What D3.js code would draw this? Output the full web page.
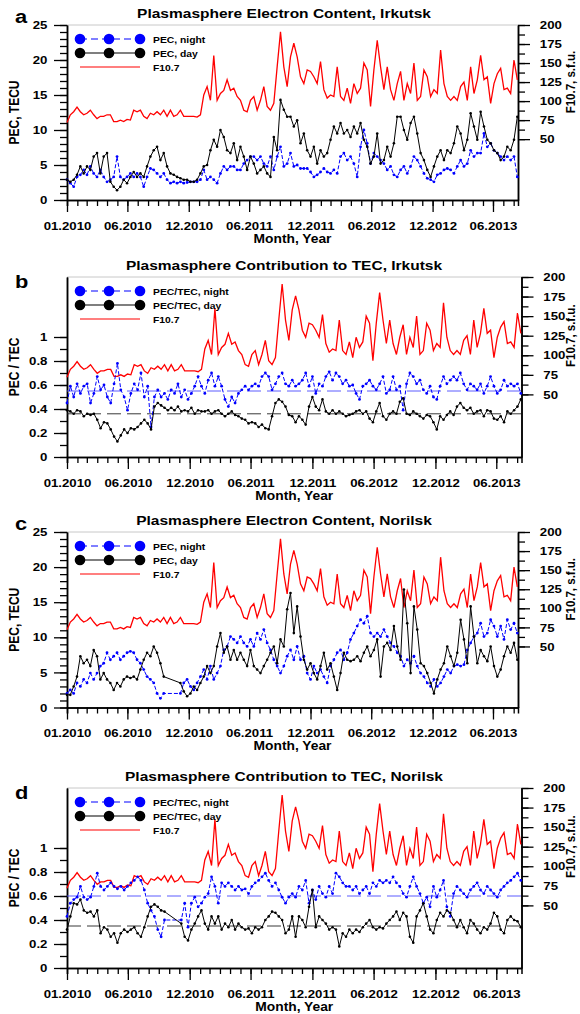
<!DOCTYPE html>
<html lang="en">
<head>
<meta charset="utf-8" />
<title>Plasmasphere Electron Content</title>
<script src="https://d3js.org/d3.v7.min.js"></script>
<style>
  body { margin: 0; background: #fff; }
  svg text { font-family: "Liberation Sans", Arial, sans-serif; font-weight: bold; fill: #000; }
</style>
</head>
<body>
<div id="chart"></div>
<script>
var width = 580, height = 1014;
var SX = 1.15; // the original lettering is a bit stretched sideways

// time axis: one value every 10 days from 01.01.2010
var startDate = new Date(Date.UTC(2010, 0, 1)),
    endDate = new Date(Date.UTC(2013, 8, 14));
var stepDays = 10;
var monthLabels = ["01.2010", "06.2010", "12.2010", "06.2011", "12.2011", "06.2012", "12.2012", "06.2013"];
var f107Ticks = [50, 75, 100, 125, 150, 175, 200];

// solar flux F10.7, s.f.u.
var f107 = [72,82,86,92,86,82,84,88,82,77, 80,80,82,82,73,73,75,73,76,75,
  88,86,88,80,77,84,82,86,82,88, 80,88,80,82,88,80,80,80,80,79,
  82,108,119,101,160,101,110,114,128,114, 117,106,101,88,86,101,106,88,101,119,
  93,88,97,145,191,145,119,158,176,158, 132,123,141,139,132,123,152,115,104,108,
  106,145,106,101,117,97,123,110,117,150, 141,93,141,180,145,115,145,115,101,123,
  139,101,123,110,150,101,106,141,132,106, 115,110,167,123,106,101,106,101,119,125,
  101,145,110,128,160,128,132,97,123,136, 143,115,117,110,154,128];

// Irkutsk, PEC (TECU)
var pecNightIrk = [2.9,2.4,1.9,3.3,3.6,4.3,3.6,4.8,3.8,3.3, 4.3,3.3,2.6,2.9,3.3,6.2,3.3,2.9,3.3,3.8,
  3.3,3.8,3.3,1.9,3.3,4.5,4.3,3.8,3.3,3.8, 2.9,2.4,2.6,2.4,2.6,2.4,2.5,2.6,2.6,2.6,
  2.9,4.3,2.9,3.3,2.9,2.4,3.8,4.8,4.3,4.8, 4.8,4.3,4.3,5.2,5.7,6.2,6.2,5.7,6.2,5.2,
  4.8,6.2,4.3,6.2,7.6,4.8,5.2,6.7,4.8,5.0, 4.5,4.5,4.5,4.0,3.3,3.6,4.0,4.5,4.0,3.8,
  4.3,3.8,6.2,6.7,5.7,6.2,5.2,3.3,7.6,10.0, 8.1,5.2,6.7,6.2,5.7,5.2,4.3,4.8,3.6,3.3,
  4.3,4.8,3.8,4.8,6.2,5.7,4.8,3.8,3.1,2.9, 2.6,3.6,3.8,4.3,4.5,4.3,3.8,4.8,5.7,4.8,
  5.2,7.1,6.2,6.7,6.7,9.5,7.6,8.1,7.1,6.7, 6.2,5.7,6.2,5.7,6.2,3.3];
var pecDayIrk = [2.9,2.6,2.9,3.6,4.8,3.8,4.8,4.3,6.2,6.7, 3.8,6.2,6.7,2.6,1.9,1.4,1.9,2.9,2.4,3.3,
  4.0,3.3,3.8,3.3,4.8,6.2,7.1,7.6,5.7,6.7, 4.8,3.8,3.6,3.3,3.1,2.9,2.9,2.6,2.6,2.9,
  3.8,4.8,5.0,7.1,8.6,7.6,10.0,9.0,7.1,6.7, 8.1,5.7,7.6,6.2,4.3,6.2,5.2,3.8,4.3,4.8,
  3.8,3.3,9.0,7.1,14.3,12.9,11.9,11.9,10.5,11.4, 8.1,9.5,7.1,6.2,7.6,5.2,7.1,6.2,6.7,8.6,
  10.5,9.5,11.0,9.5,10.0,9.0,10.5,9.5,11.0,8.6, 7.6,5.2,6.2,9.5,5.2,5.7,7.6,6.2,8.1,11.9,
  11.9,10.0,8.6,11.0,11.9,9.5,6.7,5.7,4.3,3.3, 4.8,6.2,7.1,5.7,7.1,6.7,8.1,10.5,9.5,7.1,
  8.6,12.4,10.5,8.6,12.6,10.5,8.6,8.1,7.1,6.7, 5.7,6.2,7.6,7.1,8.6,11.9];

// Irkutsk, PEC/TEC
var ratioNightIrk = [.45,.59,.50,.61,.53,.59,.61,.45,.53,.67, .56,.60,.50,.45,.61,.78,.56,.50,.39,.53,
  .61,.56,.70,.50,.59,.25,.50,.56,.50,.53, .48,.56,.53,.61,.50,.56,.48,.53,.59,.67,
  .59,.53,.64,.70,.59,.67,.59,.48,.42,.50, .45,.53,.56,.59,.56,.59,.61,.59,.67,.70,
  .67,.56,.61,.67,.70,.61,.59,.64,.59,.61, .64,.70,.59,.67,.53,.61,.59,.67,.71,.64,
  .70,.67,.61,.64,.59,.60,.53,.48,.59,.61, .64,.59,.56,.61,.67,.53,.56,.67,.56,.59,
  .39,.61,.70,.67,.61,.64,.56,.53,.59,.50, .48,.59,.67,.61,.64,.67,.64,.70,.61,.56,
  .61,.59,.56,.61,.53,.59,.67,.59,.53,.56, .64,.59,.61,.59,.61,.53];
var ratioDayIrk = [.39,.38,.36,.39,.38,.34,.36,.35,.36,.31, .24,.29,.28,.23,.17,.13,.18,.23,.20,.24,
  .23,.25,.28,.31,.28,.23,.42,.45,.43,.41, .39,.41,.39,.42,.38,.39,.38,.41,.36,.39,
  .38,.38,.39,.36,.38,.39,.36,.34,.36,.38, .35,.34,.32,.31,.28,.29,.28,.25,.27,.24,
  .23,.34,.45,.48,.46,.42,.35,.34,.29,.34, .31,.27,.42,.50,.42,.39,.48,.38,.36,.39,
  .36,.38,.36,.34,.35,.36,.38,.39,.36,.38, .32,.29,.38,.45,.34,.31,.36,.38,.36,.46,
  .49,.36,.35,.38,.36,.34,.32,.35,.34,.29, .23,.34,.31,.35,.38,.35,.42,.45,.41,.39,
  .41,.36,.38,.39,.34,.39,.38,.32,.31,.34, .29,.38,.36,.39,.42,.48];

// Norilsk, PEC (TECU); null = no data
var pecNightNor = [2.0,2.5,2.0,3.5,3.0,4.0,3.5,4.9,4.0,4.9, 5.9,6.3,7.8,6.8,7.3,7.8,6.8,7.3,7.8,8.0,
  7.8,6.8,6.3,5.4,4.4,4.0,3.5,2.0,1.3,2.0, null,null,null,null,2.0,3.5,4.0,3.0,2.5,3.5,
  4.4,5.4,4.0,5.9,4.0,4.9,5.9,8.2,8.7,10.1, 9.7,9.2,10.1,9.2,8.7,9.7,8.7,10.6,9.7,11.1,
  9.2,8.2,6.8,5.9,4.9,5.9,7.3,8.2,6.8,8.7, 6.8,7.3,4.9,4.0,5.9,4.9,5.4,4.4,3.5,5.9,
  6.8,7.8,8.2,6.8,7.8,9.7,10.6,11.6,12.5,12.0, 13.0,10.6,10.1,10.6,10.1,11.1,10.1,9.2,8.7,7.8,
  7.3,5.9,6.8,6.3,7.3,5.9,4.9,4.4,3.5,3.0, 4.0,3.0,3.5,4.4,5.4,4.9,5.9,6.1,5.9,6.1,
  8.2,9.2,10.1,10.6,12.0,10.1,10.6,12.5,11.6,10.1, 11.6,9.7,12.5,11.1,12.0,10.6];
var pecDayNor = [1.8,1.8,3.0,4.4,7.3,6.3,6.8,5.9,8.2,7.3, 4.0,4.9,4.0,3.5,2.5,3.5,3.0,4.0,4.4,4.2,
  4.4,4.0,5.4,6.8,7.8,7.3,8.7,7.8,6.3,4.4, null,null,null,null,3.5,2.3,1.6,2.0,3.0,2.5,
  3.5,4.4,5.9,4.9,5.9,8.7,10.6,7.8,8.7,6.8, 8.2,6.8,7.8,6.8,5.9,8.2,5.9,5.4,4.9,5.9,
  6.8,7.8,8.7,6.3,9.7,8.7,14.0,16.3,10.6,14.4, 10.1,6.8,5.4,6.3,4.9,4.0,5.9,7.8,5.4,6.3,
  4.4,2.5,4.9,7.8,6.8,6.6,6.8,7.3,6.6,7.8, 8.7,7.3,8.2,9.7,4.4,8.7,9.2,8.2,11.6,8.7,
  6.8,16.8,12.0,4.9,14.4,11.1,6.3,5.9,4.9,3.5, 2.0,4.0,5.4,6.3,8.7,7.3,5.9,7.8,12.5,9.7,
  6.3,14.4,10.1,6.3,8.2,7.3,6.6,8.7,5.9,4.4, 5.4,7.3,8.7,7.8,9.2,6.8];

// Norilsk, PEC/TEC
var ratioNightNor = [.43,.54,.57,.59,.68,.59,.57,.59,.68,.79, .68,.65,.68,.71,.68,.66,.68,.65,.68,.71,
  .73,.76,.73,.65,.54,.48,.43,.32,.26,.40, null,null,null,null,.40,.54,.34,.54,.59,.51,
  .54,.59,.62,.76,.68,.54,.71,.68,.71,.68, .65,.68,.65,.66,.62,.68,.71,.73,.76,.79,
  .73,.68,.71,.65,.59,.54,.59,.62,.59,.68, .65,.73,.54,.65,.57,.68,.62,.59,.68,.62,
  .79,.76,.71,.68,.68,.65,.68,.62,.65,.68, .62,.71,.68,.73,.71,.73,.71,.76,.71,.68,
  .62,.59,.68,.76,.68,.62,.54,.59,.51,.68, .59,.65,.73,.51,.43,.62,.68,.65,.62,.59,
  .65,.68,.71,.65,.62,.68,.65,.62,.59,.65, .68,.71,.73,.76,.79,.73];
var ratioDayNor = [.32,.43,.54,.53,.57,.48,.46,.47,.43,.48, .29,.34,.32,.26,.29,.21,.29,.32,.30,.32,
  .34,.29,.26,.34,.43,.51,.53,.51,.48,.47, null,null,null,null,.37,.26,.23,.32,.37,.43,
  .48,.37,.32,.43,.37,.43,.32,.37,.34,.40, .32,.37,.34,.32,.33,.29,.34,.32,.34,.40,
  .43,.47,.46,.43,.40,.29,.32,.43,.26,.43, .40,.34,.51,.65,.34,.43,.40,.37,.32,.34,
  .32,.18,.29,.26,.32,.29,.32,.30,.34,.37, .40,.34,.32,.34,.33,.37,.40,.43,.47,.40,
  .46,.43,.26,.21,.43,.48,.54,.43,.32,.29, .40,.46,.43,.48,.46,.40,.34,.40,.34,.29,
  .40,.37,.32,.29,.34,.32,.37,.46,.43,.32, .29,.40,.43,.40,.39,.34];

// mean levels drawn as dashed lines in the ratio panels
var meanRatioIrk = [0.55, 0.36]; // night, day
var meanRatioNor = [0.60, 0.35];

var panels = [
  {letter: "a", title: "Plasmasphere Electron Content, Irkutsk", kind: "pec",
   night: pecNightIrk, day: pecDayIrk, names: ["PEC, night", "PEC, day"], box: {l: 67, r: 518, t: 25, b: 200}},
  {letter: "b", title: "Plasmasphere Contribution to TEC, Irkutsk", kind: "ratio", means: meanRatioIrk,
   night: ratioNightIrk, day: ratioDayIrk, names: ["PEC/TEC, night", "PEC/TEC, day"], box: {l: 67, r: 521.5, t: 277, b: 457}},
  {letter: "c", title: "Plasmasphere Electron Content, Norilsk", kind: "pec",
   night: pecNightNor, day: pecDayNor, names: ["PEC, night", "PEC, day"], box: {l: 67, r: 518, t: 532, b: 707.5}},
  {letter: "d", title: "Plasmasphere Contribution to TEC, Norilsk", kind: "ratio", means: meanRatioNor,
   night: ratioNightNor, day: ratioDayNor, names: ["PEC/TEC, night", "PEC/TEC, day"], box: {l: 67, r: 521.5, t: 788, b: 968}}
];

function toSeries(values) {
  return values.map(function(v, i) {
    return {date: d3.utcDay.offset(startDate, i * stepDays), v: v};
  }).filter(function(d) { return d.v != null; });
}

var svg = d3.select("#chart").append("svg")
    .attr("width", width)
    .attr("height", height);

// stretched text, anchored at (x, y)
function label(g, x, y, str, size, anchor, rot) {
  return g.append("text")
      .attr("transform", "translate(" + x + "," + y + ") scale(" + SX + ",1)" + (rot ? " rotate(" + rot + ")" : ""))
      .attr("text-anchor", anchor || "start")
      .style("font-size", size + "px")
      .text(str);
}

function styleAxis(sel) {
  sel.select(".domain").attr("stroke", "#000").attr("stroke-width", 1.5);
  sel.selectAll(".tick line").attr("stroke", "#000").attr("stroke-width", 1.3);
}

panels.forEach(function(p) {
  var b = p.box;
  var g = svg.append("g");

  var x = d3.scaleUtc().domain([startDate, endDate]).range([b.l, b.r]);
  var yMax = p.kind === "pec" ? 25 : 1.5;
  var y = d3.scaleLinear().domain([0, yMax]).range([b.b, b.t]);
  var yF = d3.scaleLinear().domain([-30, 200]).range([b.b, b.t]);

  // frame top
  g.append("line").attr("x1", b.l).attr("x2", b.r).attr("y1", b.t).attr("y2", b.t)
      .attr("stroke", "#c8c8c8").attr("stroke-width", 1);

  // bottom axis: monthly minor ticks, half-year major ticks
  var xMinor = g.append("g").attr("transform", "translate(0," + b.b + ")")
      .call(d3.axisBottom(x).tickValues(d3.utcMonth.range(startDate, endDate)).tickSize(6).tickFormat(""));
  styleAxis(xMinor);
  var majors = d3.utcMonth.every(6).range(startDate, endDate);
  var xMajor = g.append("g").attr("transform", "translate(0," + b.b + ")")
      .call(d3.axisBottom(x).tickValues(majors).tickSize(12).tickSizeOuter(0)
        .tickFormat(function(d, i) { return monthLabels[i]; }));
  styleAxis(xMajor);
  xMajor.selectAll(".tick text").attr("y", 30).attr("dy", 0)
      .attr("transform", "scale(" + SX + ",1)")
      .style("font-size", "11.5px").style("font-family", null);
  label(g, (b.l + b.r) / 2, b.b + 42.5, "Month, Year", 12, "middle");

  // left axis
  var yMajorVals, yMinorVals, fmt, yName;
  if (p.kind === "pec") {
    yMajorVals = d3.range(0, 26, 5);
    yMinorVals = d3.range(0, 26, 1);
    fmt = d3.format("d");
    yName = "PEC, TECU";
  } else {
    yMajorVals = [0, 0.2, 0.4, 0.6, 0.8, 1];
    yMinorVals = d3.range(0, 11).map(function(k) { return k / 10; });
    fmt = function(d) { return d === 0 || d === 1 ? d3.format("d")(d) : d3.format(".1f")(d); };
    yName = "PEC / TEC";
  }
  var yMinorAxis = g.append("g").attr("transform", "translate(" + b.l + ",0)")
      .call(d3.axisLeft(y).tickValues(yMinorVals).tickSize(7).tickSizeOuter(0).tickFormat(""));
  styleAxis(yMinorAxis);
  var yAxis = g.append("g").attr("transform", "translate(" + b.l + ",0)")
      .call(d3.axisLeft(y).tickValues(yMajorVals).tickSize(13).tickSizeOuter(0).tickPadding(4).tickFormat(fmt));
  styleAxis(yAxis);
  yAxis.selectAll(".tick text").attr("transform", "scale(" + SX + ",1)")
      .style("font-size", "11.5px").style("font-family", null);
  label(g, 19, (b.t + b.b) / 2, yName, 12, "middle", -90);

  // right axis, F10.7
  var fMinor = d3.range(50, 201, 12.5);
  var rMinor = g.append("g").attr("transform", "translate(" + b.r + ",0)")
      .call(d3.axisRight(yF).tickValues(fMinor).tickSize(7).tickSizeOuter(0).tickFormat(""));
  styleAxis(rMinor);
  var rAxis = g.append("g").attr("transform", "translate(" + b.r + ",0)")
      .call(d3.axisRight(yF).tickValues(f107Ticks).tickSize(12).tickSizeOuter(0).tickPadding(7));
  styleAxis(rAxis);
  rAxis.selectAll(".tick text").attr("transform", "scale(" + SX + ",1)")
      .style("font-size", "11.5px").style("font-family", null);
  label(g, 575, yF(125), "F10.7, s.f.u.", 11.5, "middle", -90);

  // title and panel letter
  label(g, 284, b.t - 7, p.title, 13.5, "middle");
  label(g, 15, b.t - (p.kind === "pec" ? 2 : -11), p.letter, 19, "start");

  // mean levels
  if (p.means) {
    g.append("line").attr("x1", b.l).attr("x2", b.r).attr("y1", y(p.means[0])).attr("y2", y(p.means[0]))
        .attr("stroke", "#4a4aff").attr("stroke-width", 0.9).attr("stroke-dasharray", "14,6");
    g.append("line").attr("x1", b.l).attr("x2", b.r).attr("y1", y(p.means[1])).attr("y2", y(p.means[1]))
        .attr("stroke", "#222").attr("stroke-width", 0.9).attr("stroke-dasharray", "14,6");
  }

  // F10.7
  var lineF = d3.line().x(function(d) { return x(d.date); }).y(function(d) { return yF(d.v); });
  g.append("path").datum(toSeries(f107))
      .attr("d", lineF).attr("fill", "none").attr("stroke", "#ff0000").attr("stroke-width", 1.3);

  var line = d3.line().x(function(d) { return x(d.date); }).y(function(d) { return y(d.v); });

  // night (blue, dashed) and day (black) series with small markers
  var night = toSeries(p.night), day = toSeries(p.day);
  g.append("path").datum(night)
      .attr("d", line).attr("fill", "none").attr("stroke", "#0000ff")
      .attr("stroke-width", 1).attr("stroke-dasharray", "4,2");
  g.append("g").selectAll("circle").data(night).enter().append("circle")
      .attr("cx", function(d) { return x(d.date); }).attr("cy", function(d) { return y(d.v); })
      .attr("r", 1.4).attr("fill", "#0000ff");
  g.append("path").datum(day)
      .attr("d", line).attr("fill", "none").attr("stroke", "#000").attr("stroke-width", 1);
  g.append("g").selectAll("circle").data(day).enter().append("circle")
      .attr("cx", function(d) { return x(d.date); }).attr("cy", function(d) { return y(d.v); })
      .attr("r", 1.3).attr("fill", "#000");

  // legend
  var lg = g.append("g").attr("transform", "translate(0," + b.t + ")");
  var cx = [80, 109, 140];
  lg.append("line").attr("x1", 80).attr("x2", 140).attr("y1", 14).attr("y2", 14)
      .attr("stroke", "#0000ff").attr("stroke-width", 1.2).attr("stroke-dasharray", "7,4");
  lg.selectAll("circle.n").data(cx).enter().append("circle")
      .attr("cx", function(d) { return d; }).attr("cy", 14).attr("r", 5.3).attr("fill", "#0000ff");
  lg.append("line").attr("x1", 80).attr("x2", 140).attr("y1", 28).attr("y2", 28)
      .attr("stroke", "#000").attr("stroke-width", 1.2);
  lg.selectAll("circle.d").data(cx).enter().append("circle")
      .attr("cx", function(d) { return d; }).attr("cy", 28).attr("r", 5.3).attr("fill", "#000");
  lg.append("line").attr("x1", 80).attr("x2", 140).attr("y1", 42).attr("y2", 42)
      .attr("stroke", "#ff0000").attr("stroke-width", 1.2);
  label(lg, 153, 17.5, p.names[0], 9, "start");
  label(lg, 153, 31.5, p.names[1], 9, "start");
  label(lg, 153, 45.5, "F10.7", 9, "start");
});
</script>
</body>
</html>
